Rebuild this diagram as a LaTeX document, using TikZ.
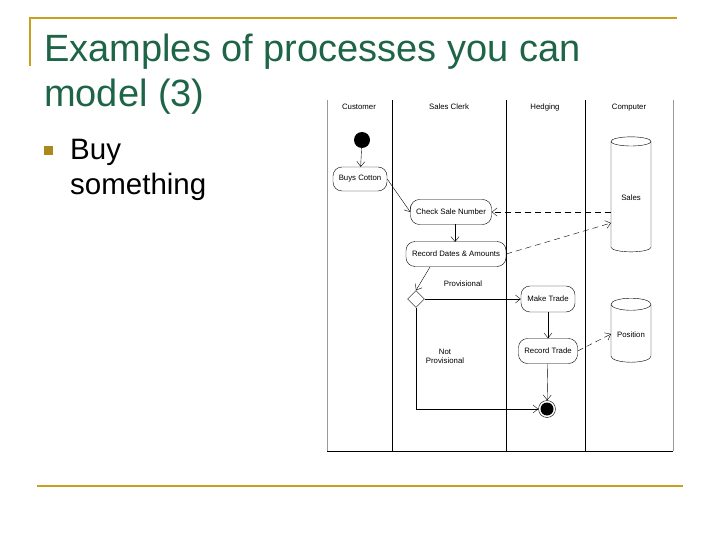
\documentclass[tikz,border=0pt]{standalone}
\usepackage{fontspec}
\setmainfont{Liberation Sans}
\usetikzlibrary{shapes.geometric,arrows.meta}
\definecolor{gold}{RGB}{200,160,30}
\definecolor{ttl}{RGB}{30,100,70}
\begin{document}
\begin{tikzpicture}[x=1pt,y=-1pt,
 act/.style={draw,rounded corners=9pt,font=\fontsize{7.8}{8}\selectfont,inner sep=0pt},
 lbl/.style={font=\fontsize{7.8}{9}\selectfont,align=center},
 hdr/.style={font=\fontsize{7.8}{9}\selectfont,anchor=base},
 ar/.style={-{Straight Barb[length=5pt,width=8pt]},thin},
 dar/.style={ar,dashed,dash pattern=on 6pt off 4pt},
 cyl/.style={draw,cylinder,shape border rotate=90,aspect=0.35,minimum width=40pt,font=\fontsize{7.8}{8}\selectfont}]
\useasboundingbox (0,0) rectangle (720,540);
\draw[gold,line width=2pt] (30,66) -- (30,18) -- (677,18);
\draw[gold,line width=2pt] (37,486) -- (683,486);
\node[anchor=base west,inner sep=0pt,text=ttl,font=\fontsize{38}{40}\selectfont] (t1) at (44,62) {Examples of processes you can};
\node[anchor=base west,inner sep=0pt,text=ttl,font=\fontsize{38}{40}\selectfont] (t2) at (44,107) {model (3)};
\node[fill=gold!85!black,minimum size=9pt,inner sep=0pt] (bl) at (48.5,151) {};
\node[anchor=base west,inner sep=0pt,font=\fontsize{29.5}{32}\selectfont] (b1) at (70,160) {Buy};
\node[anchor=base west,inner sep=0pt,font=\fontsize{29.5}{32}\selectfont] (b2) at (70,195) {something};
% frame
\draw[black!40,thin] (327,100) -- (327,451) (673,100) -- (673,451);
\draw[line width=1pt] (327,451) -- (673,451);
\foreach \x in {392,506,585} \draw[thin] (\x,100) -- (\x,451);
\node[hdr] (h1) at (359,110) {Customer};
\node[hdr] (h2) at (449,110) {Sales Clerk};
\node[hdr] (h3) at (545,110) {Hedging};
\node[hdr] (h4) at (629,110) {Computer};
\node[circle,fill,minimum size=16pt,inner sep=0pt] (st) at (362,140) {};
\node[act,minimum width=54pt,minimum height=24pt] (bc) at (360,179) {Buys Cotton};
\node[act,minimum width=81pt,minimum height=25pt] (cs) at (451,212) {Check Sale Number};
\node[act,minimum width=100pt,minimum height=25pt] (rd) at (456,254) {Record Dates \& Amounts};
\node[diamond,draw,minimum size=17pt,inner sep=0pt] (dm) at (416,299) {};
\node[act,minimum width=54pt,minimum height=26pt] (mt) at (548,299) {Make Trade};
\node[act,minimum width=59pt,minimum height=25pt] (rt) at (548,351) {Record Trade};
\node[circle,draw,minimum size=17pt,inner sep=0pt] (en) at (547,409) {};
\node[circle,fill,minimum size=13pt,inner sep=0pt] (en2) at (547,409) {};
\node[cyl,minimum height=115pt] (sa) at (631,198) {Sales};
\node[cyl,minimum height=64pt] (po) at (631,335) {Position};
\node[lbl] (lp) at (463,284) {Provisional};
\node[lbl] (ln) at (445,356) {Not\\Provisional};
\draw[ar] (st) -- (bc);
\draw[ar] (bc.east) -- (cs.west);
\draw[dar] (sa.west |- cs.east) -- (cs.east);
\draw[dar] (rd.east) -- (611,223);
\draw[ar] (455,224) -- (455,242);
\draw[ar] (430,267) -- (dm.north);
\draw[ar] (dm.east) -- (mt.west);
\draw[ar] (mt) -- (rt);
\draw[ar] (rt) -- (en);
\draw[ar] (dm.south) |- (en.west);
\draw[dar] (rt.east) -- (611,334);
\end{tikzpicture}
\end{document}
